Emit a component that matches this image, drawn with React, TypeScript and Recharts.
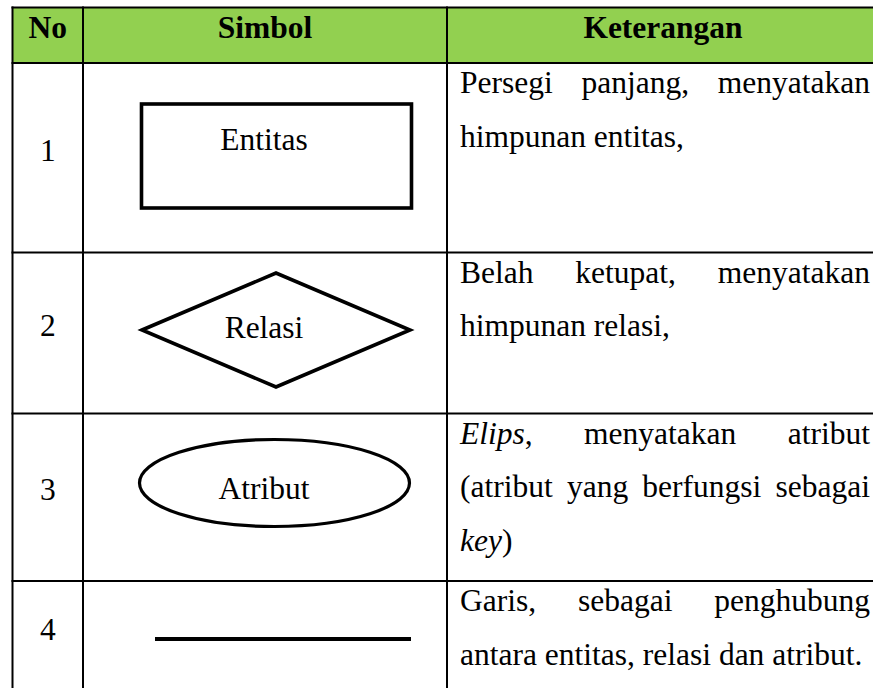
import { ScatterChart, Scatter, XAxis, YAxis, ReferenceArea, ReferenceLine } from "recharts";

// table content
const headers = ["No", "Simbol", "Keterangan"];
const rowNumbers = ["1", "2", "3", "4"];
const symbolKinds = ["rect", "diamond", "ellipse", "line"];
const symbolLabels = ["Entitas", "Relasi", "Atribut", ""];
// _word_ = italic
const descriptions = [
  ["Persegi panjang, menyatakan", "himpunan entitas,"],
  ["Belah ketupat, menyatakan", "himpunan relasi,"],
  ["_Elips_, menyatakan atribut", "(atribut yang berfungsi sebagai", "_key_)"],
  ["Garis, sebagai penghubung", "antara entitas, relasi dan atribut."],
];

// layout (px)
const W = 873;
const H = 688;
const FONT = '"Liberation Serif", "Times New Roman", serif';
const FS = 31.5;
const GREEN = "#92D050";
const colEdges = [12.5, 83, 447, 879];
const rowEdges = [7.5, 63, 252.5, 413.5, 581];
const headerBaseline = 37.5;
const numberBaselines = [161, 336, 500, 640];
const symbolCenters = [
  { x: 276.5, y: 156 },
  { x: 276, y: 330 },
  { x: 274.5, y: 483 },
  { x: 283, y: 639 },
];
const labelX = 264;
const labelBaselines = [150, 338, 499, 0];
const textLeft = 460;
const textWidth = 410;
const firstLineOffset = 30;
const lineGap = 53.7;

const ctx = document.createElement("canvas").getContext("2d");
const measure = (s: string, italic: boolean) => {
  if (!ctx) return s.length * FS * 0.45;
  ctx.font = `${italic ? "italic " : ""}${FS}px ${FONT}`;
  return ctx.measureText(s).width;
};
const parseWord = (w: string) =>
  w.split("_").map((t, i) => ({ t, italic: i % 2 === 1 })).filter((g) => g.t.length > 0);

const colCenter = (i: number) => (colEdges[i] + colEdges[i + 1]) / 2;

const headerPoints = headers.map((text, i) => ({ x: colCenter(i), y: headerBaseline, text, bold: true }));
const numberPoints = rowNumbers.map((text, i) => ({ x: colCenter(0), y: numberBaselines[i], text, bold: false }));
const labelPoints = symbolLabels
  .map((text, i) => ({ x: labelX, y: labelBaselines[i], text, bold: false }))
  .filter((p) => p.text);
const symbolPoints = symbolKinds.map((kind, i) => ({ x: symbolCenters[i].x, y: symbolCenters[i].y, kind }));
const linePoints = descriptions.flatMap((lines, r) =>
  lines.map((text, j) => ({
    x: textLeft,
    y: rowEdges[r + 1] + firstLineOffset + j * lineGap,
    text,
    justify: j < lines.length - 1,
  }))
);

const TextShape = (p: any) => (
  <text
    x={p.cx}
    y={p.cy}
    textAnchor="middle"
    fontFamily={FONT}
    fontSize={FS}
    fontWeight={p.payload.bold ? 700 : 400}
    fill="#000"
  >
    {p.payload.text}
  </text>
);

const SymbolShape = (p: any) => {
  const { cx, cy } = p;
  const k = p.payload.kind;
  if (k === "rect") return <rect x={cx - 135} y={cy - 52} width={270} height={104} fill="none" stroke="#000" strokeWidth={3.6} />;
  if (k === "diamond")
    return (
      <polygon
        points={`${cx - 134},${cy} ${cx},${cy - 57} ${cx + 134},${cy} ${cx},${cy + 57}`}
        fill="none"
        stroke="#000"
        strokeWidth={3.6}
      />
    );
  if (k === "ellipse") return <ellipse cx={cx} cy={cy} rx={135} ry={43.5} fill="none" stroke="#000" strokeWidth={3.2} />;
  return <line x1={cx - 128} x2={cx + 128} y1={cy} y2={cy} stroke="#000" strokeWidth={4} />;
};

const LineShape = (p: any) => {
  const { cx, cy, payload } = p;
  const words = payload.text.split(" ").map(parseWord);
  const widths = words.map((segs: any[]) => segs.reduce((s, g) => s + measure(g.t, g.italic), 0));
  const total = widths.reduce((a: number, b: number) => a + b, 0);
  const gap =
    payload.justify && words.length > 1 ? (textWidth - total) / (words.length - 1) : measure(" ", false);
  let x = cx;
  return (
    <g>
      {words.map((segs: any[], i: number) => {
        const el = (
          <text key={i} x={x} y={cy} fontFamily={FONT} fontSize={FS} fill="#000">
            {segs.map((g, j) => (
              <tspan key={j} fontStyle={g.italic ? "italic" : "normal"}>
                {g.t}
              </tspan>
            ))}
          </text>
        );
        x += widths[i] + gap;
        return el;
      })}
    </g>
  );
};

const App = () => {
  const bottom = H;
  const right = W;
  return (
    <div style={{ position: "absolute", left: 0, top: 0, background: "#fff" }}>
      <ScatterChart width={W} height={H} margin={{ top: 0, right: 0, bottom: 0, left: 0 }}>
        <XAxis type="number" dataKey="x" domain={[0, W]} hide allowDataOverflow />
        <YAxis type="number" dataKey="y" domain={[0, H]} reversed hide allowDataOverflow />
        <ReferenceArea x1={colEdges[0]} x2={right} y1={rowEdges[0]} y2={rowEdges[1]} fill={GREEN} fillOpacity={1} stroke="none" />
        {rowEdges.map((y, i) => (
          <ReferenceLine
            key={`h${i}`}
            segment={[{ x: colEdges[0] - 1, y }, { x: right, y }]}
            stroke="#000"
            strokeWidth={2}
          />
        ))}
        {colEdges.slice(0, 3).map((x, i) => (
          <ReferenceLine
            key={`v${i}`}
            segment={[{ x, y: rowEdges[0] - 1 }, { x, y: bottom }]}
            stroke="#000"
            strokeWidth={2}
          />
        ))}
        <Scatter data={symbolPoints} shape={SymbolShape} isAnimationActive={false} />
        <Scatter data={headerPoints} shape={TextShape} isAnimationActive={false} />
        <Scatter data={numberPoints} shape={TextShape} isAnimationActive={false} />
        <Scatter data={labelPoints} shape={TextShape} isAnimationActive={false} />
        <Scatter data={linePoints} shape={LineShape} isAnimationActive={false} />
      </ScatterChart>
    </div>
  );
};

export default App;
